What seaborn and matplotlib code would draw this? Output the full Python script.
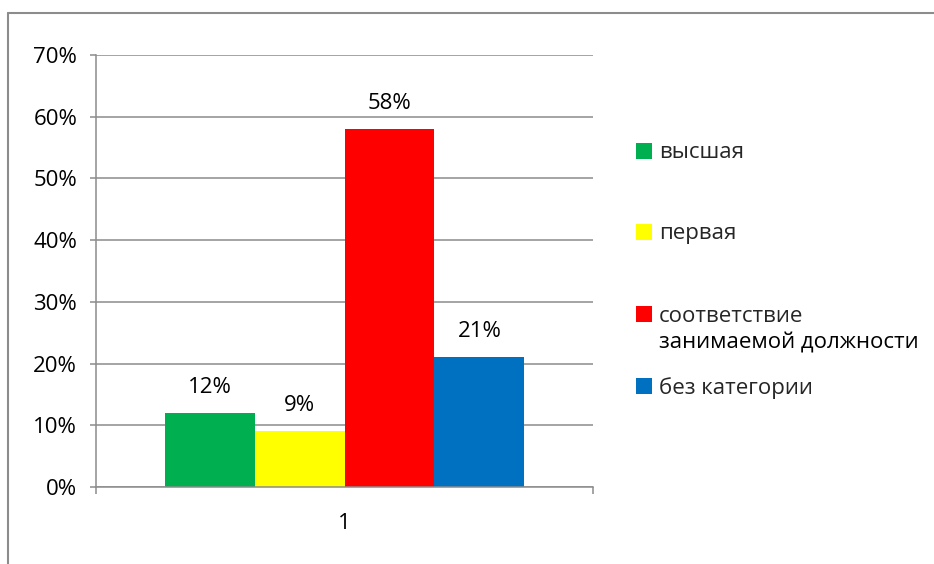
import matplotlib
matplotlib.use("Agg")
import matplotlib.pyplot as plt
import matplotlib.lines as mlines
import matplotlib.patches as mpatches
import seaborn as sns
import pandas as pd
from matplotlib.ticker import FuncFormatter, FixedLocator

categories = ["высшая", "первая", "соответствие\nзанимаемой должности", "без категории"]
values = [0.12, 0.09, 0.58, 0.21]
group = ["1", "1", "1", "1"]
colors = ["#00B050", "#FFFF00", "#FF0000", "#0070C0"]
yticks = [0, 0.1, 0.2, 0.3, 0.4, 0.5, 0.6, 0.7]

sns.set_theme(style="white")
plt.rcParams["font.family"] = ["Open Sans", "DejaVu Sans"]
FS = 16

df = pd.DataFrame({"group": group, "value": values, "cat": categories})

fig = plt.figure(figsize=(9.34, 5.64), dpi=100)
ax = fig.add_axes([96/934, 1-487/564, (593-96)/934, (487-55)/564])

sns.barplot(data=df, x="group", y="value", hue="cat", palette=colors,
            width=0.724, gap=0, saturation=1, ax=ax, legend=False,
            edgecolor="none", linewidth=0)

ax.set_xlim(-0.5, 0.5)
ax.set_ylim(0, 0.7)
ax.set_yticks(yticks)
ax.yaxis.set_major_formatter(FuncFormatter(lambda v, p: f"{v*100:.0f}%"))
ax.yaxis.grid(True, color="#8C8C8C", linewidth=1.1)
ax.set_axisbelow(True)
ax.set_xlabel("")
ax.set_ylabel("")

for s in ["top", "right"]:
    ax.spines[s].set_visible(False)
for s in ["left", "bottom"]:
    ax.spines[s].set_color("#8C8C8C")
    ax.spines[s].set_linewidth(1.1)

ax.tick_params(axis="y", which="major", left=True, length=4.5, width=1.1,
               color="#8C8C8C", labelsize=FS, pad=9, labelcolor="black")
ax.xaxis.set_minor_locator(FixedLocator([-0.5, 0.5]))
ax.tick_params(axis="x", which="major", bottom=False, labelsize=FS, pad=13,
               labelcolor="black")
ax.tick_params(axis="x", which="minor", bottom=True, length=5, width=1.1,
               color="#8C8C8C")

for cont in ax.containers:
    ax.bar_label(cont, labels=[f"{v*100:.0f}%" for v in cont.datavalues],
                 padding=11, fontsize=FS, color="black")

# legend entries placed individually; multi-line label: first line with handle
leg_y = [153, 234, 316, 388]
for cat, col, yy in zip(categories, colors, leg_y):
    lines = cat.split("\n")
    h = mpatches.Patch(facecolor=col, edgecolor="none")
    lg = fig.legend(handles=[h], labels=[lines[0]], loc="center left",
                    bbox_to_anchor=(636/934, 1-yy/564), frameon=False,
                    fontsize=FS, handlelength=0.72, handleheight=0.72,
                    handletextpad=0.32, borderpad=0, borderaxespad=0)
    for k, extra in enumerate(lines[1:], start=1):
        fig.text(659/934, 1-(yy+27*k)/564, extra, fontsize=FS,
                 ha="left", va="center", color="black")

# chart border (top and left)
fig.add_artist(mlines.Line2D([8/934, 1], [1-13/564, 1-13/564],
                             transform=fig.transFigure, color="#8C8C8C", lw=1.5))
fig.add_artist(mlines.Line2D([8/934, 8/934], [0, 1-13/564],
                             transform=fig.transFigure, color="#8C8C8C", lw=1.5))

fig.savefig("out.png", dpi=100)
